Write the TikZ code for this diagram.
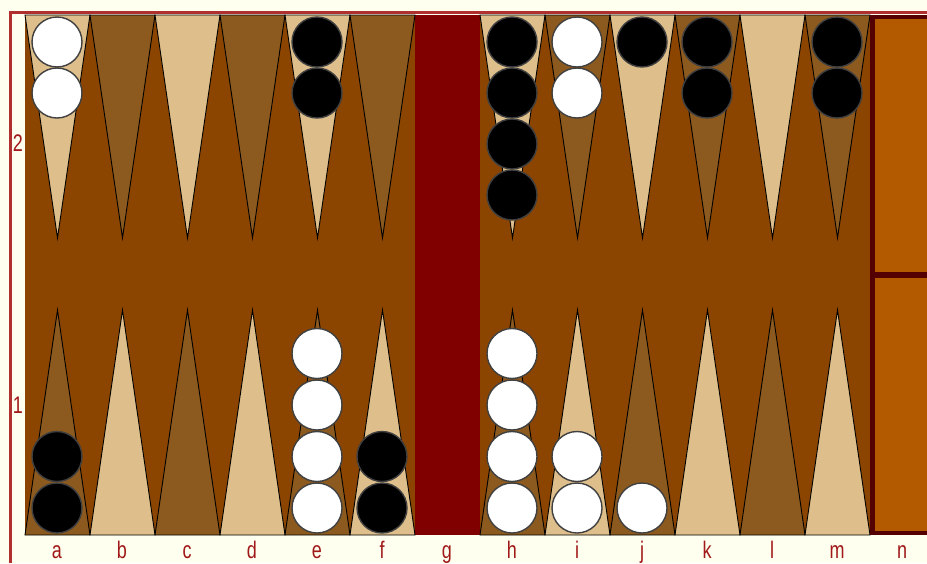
\documentclass[tikz,border=0pt]{standalone}
\usepackage{fontspec}
\setsansfont{Liberation Sans}
\usetikzlibrary{positioning}
\definecolor{paper}{HTML}{FFFFF0}
\definecolor{boardbg}{HTML}{8B4500}
\definecolor{lightpt}{HTML}{DEBF8C}
\definecolor{darkpt}{HTML}{8C5A1E}
\definecolor{barred}{HTML}{800000}
\definecolor{trayfill}{HTML}{B35900}
\definecolor{trayedge}{HTML}{550000}
\definecolor{frame}{HTML}{B03030}
\definecolor{labelred}{HTML}{A01818}

\tikzset{
  point/.style={draw=black, line width=0.9pt},
  piece/.style={draw=black!75, line width=1.4pt},
  collabel/.style={text=labelred, font=\sffamily\fontsize{24}{24}\selectfont, inner sep=0pt},
}
% checker: column index, stack position, top/bottom, colour
\newcommand{\checker}[4]{%
  \ifx#3t
    \filldraw[piece, fill=#4] ({57+65*#1},{42+51*#2}) circle (25);
  \else
    \filldraw[piece, fill=#4] ({57+65*#1},{508-51.5*#2}) circle (25);
  \fi}

\begin{document}
\begin{tikzpicture}[x=1pt,y=-1pt]
  \useasboundingbox (0,0) rectangle (927,563);
  \fill[paper] (0,0) rectangle (927,563);

  % Board and bar
  \fill[boardbg] (25,15) rectangle (870,535);
  \fill[barred] (415,15) rectangle (480,535);

  % Points, top and bottom
  \foreach \i/\tc/\bc in {0/lightpt/darkpt, 1/darkpt/lightpt, 2/lightpt/darkpt,
      3/darkpt/lightpt, 4/lightpt/darkpt, 5/darkpt/lightpt,
      7/lightpt/darkpt, 8/darkpt/lightpt, 9/lightpt/darkpt,
      10/darkpt/lightpt, 11/lightpt/darkpt, 12/darkpt/lightpt}{
    \filldraw[point, fill=\tc] ({25+65*\i},15) -- ({90+65*\i},15)
      -- ({57.5+65*\i},238) -- cycle;
    \filldraw[point, fill=\bc] ({25+65*\i},535) -- ({90+65*\i},535)
      -- ({57.5+65*\i},310) -- cycle;
  }

  % Bear-off tray
  \fill[trayedge] (870,15) rectangle (927,535);
  \fill[trayfill] (875,19) rectangle (927,272);
  \fill[trayfill] (875,278) rectangle (927,531);

  % Frame lines
  \fill[frame] (9,11) rectangle (927,14);
  \fill[frame] (9,11) rectangle (11.5,563);

  % Top checkers
  \foreach \k in {0,1} {\checker{0}{\k}{t}{white}}
  \foreach \k in {0,1} {\checker{4}{\k}{t}{black}}
  \foreach \k in {0,...,3} {\checker{7}{\k}{t}{black}}
  \foreach \k in {0,1} {\checker{8}{\k}{t}{white}}
  \checker{9}{0}{t}{black}
  \foreach \k in {0,1} {\checker{10}{\k}{t}{black}}
  \foreach \k in {0,1} {\checker{12}{\k}{t}{black}}

  % Bottom checkers
  \foreach \k in {0,1} {\checker{0}{\k}{b}{black}}
  \foreach \k in {0,...,3} {\checker{4}{\k}{b}{white}}
  \foreach \k in {0,1} {\checker{5}{\k}{b}{black}}
  \foreach \k in {0,...,3} {\checker{7}{\k}{b}{white}}
  \foreach \k in {0,1} {\checker{8}{\k}{b}{white}}
  \checker{9}{0}{b}{white}

  % Column and row labels
  \foreach \c [count=\n from 0] in {a,b,c,d,e,f,g,h,i,j,k,l,m,n}
    \node[collabel, anchor=base] (col-\c) at ({57+65*\n},558) {\scalebox{0.75}[1]{\c}};
  \node[collabel] (row-2) at (18,143) {\scalebox{0.75}[1]{2}};
  \node[collabel] (row-1) at (18,405) {\scalebox{0.75}[1]{1}};
\end{tikzpicture}
\end{document}
